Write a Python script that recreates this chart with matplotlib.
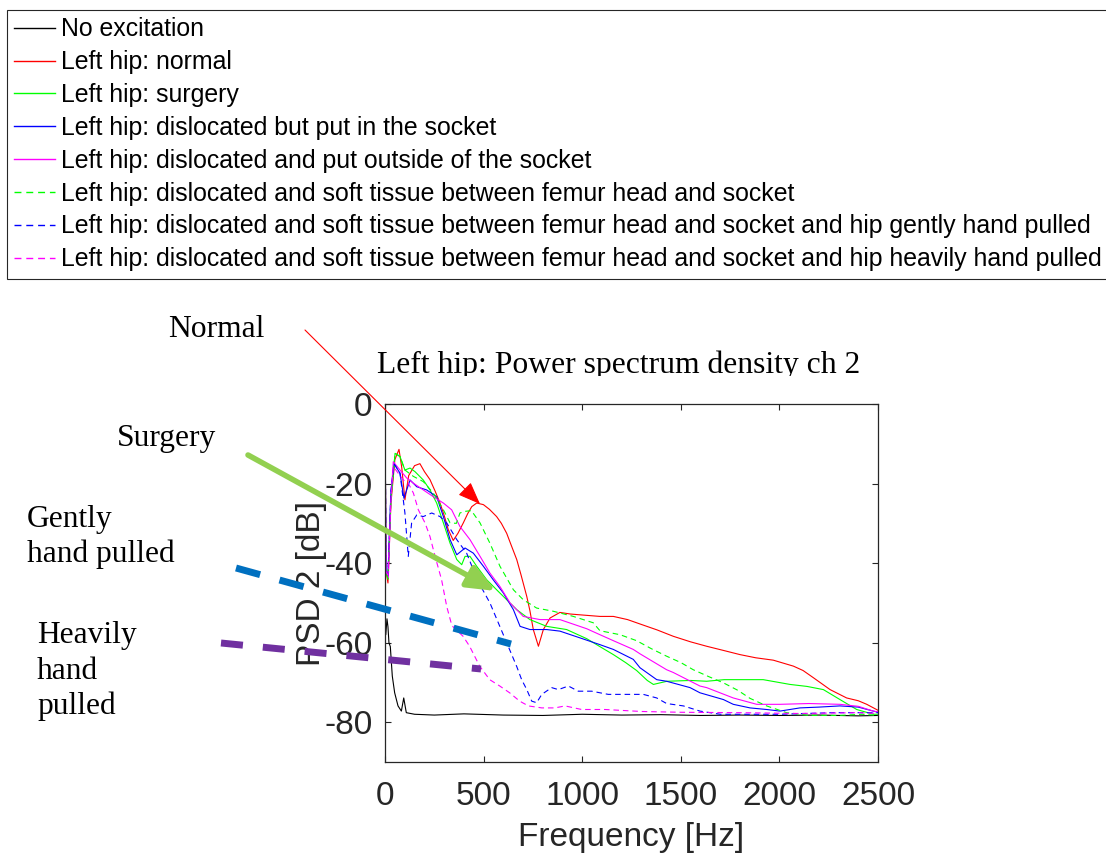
import matplotlib
matplotlib.use("Agg")
import matplotlib.pyplot as plt
from matplotlib.lines import Line2D
from matplotlib.patches import FancyArrowPatch, ArrowStyle
from matplotlib.transforms import Bbox, TransformedBbox

##### data (frequency in Hz, PSD in dB) #####
f_none = [0, 4, 10, 15, 20, 27, 37, 49, 66, 83, 95, 108, 150, 250, 400, 600, 800,
          1000, 1200, 1400, 1600, 1800, 2000, 2200, 2400, 2500]
psd_none = [-52, -58, -54, -56, -60, -61, -68.4, -72.6, -75.9, -77.2, -73.9, -77.6, -78, -78.2,
            -77.9, -78.2, -78.3, -78, -78.2, -78.1, -78.3, -78.2, -78.3, -78.2, -78.4, -78.3]

f_normal = [0, 5, 15, 30, 50, 71, 85, 101, 120, 150, 177, 200, 228, 255, 279, 300, 321, 346,
            370, 397, 420, 440, 465, 499, 530, 566, 590, 617, 640, 668, 690, 719, 735, 752,
            778, 803, 837, 887, 940, 989, 1090, 1158, 1230, 1293, 1380, 1462, 1550, 1631,
            1720, 1800, 1880, 1969, 2071, 2120, 2172, 2257, 2341, 2400, 2443, 2500]
psd_normal = [0, -42, -45, -25, -14, -11.4, -16, -24.1, -18, -15.5, -15, -17, -19, -22, -24.9,
              -28, -31.6, -34.3, -32.5, -29.9, -27.5, -25.8, -24.9, -25.3, -26.5, -28.3, -30,
              -32.5, -35.5, -39.1, -43, -48.4, -52, -56.7, -60.9, -56.7, -53.8, -52.4, -52.8,
              -53, -53.4, -53.4, -54.2, -55.3, -56.8, -58.4, -59.8, -60.9, -62, -63, -63.8,
              -64.4, -65.9, -67, -68.8, -71.8, -73.9, -74.6, -75.5, -77]

f_surgery = [0, 5, 15, 30, 51, 76, 101, 127, 152, 194, 228, 262, 296, 330, 364, 389, 406, 431,
             465, 516, 566, 617, 668, 735, 820, 921, 1023, 1090, 1158, 1220, 1276, 1330, 1361,
             1430, 1550, 1631, 1720, 1800, 1918, 2054, 2140, 2223, 2307, 2392, 2476, 2500]
psd_surgery = [0, -42, -44, -24, -12.4, -13.2, -16.6, -16.1, -17, -19.1, -21.6, -24.9, -29.9,
               -35, -39.1, -40.4, -38.3, -38.3, -40.8, -44.2, -46.7, -49.2, -51.7, -54.2, -55.9,
               -56.7, -59, -61, -63, -65, -67, -69.5, -70.5, -69.7, -69.5, -69.7, -69.3, -69.3,
               -69.3, -70.5, -71, -71.8, -74.3, -76.8, -78, -78]

f_insocket = [0, 5, 15, 30, 46, 76, 96, 127, 161, 211, 262, 296, 330, 364, 406, 448, 499, 549,
              600, 651, 685, 735, 820, 887, 989, 1090, 1158, 1259, 1293, 1378, 1428, 1547, 1597,
              1716, 1766, 1851, 1935, 2003, 2104, 2200, 2307, 2400, 2476, 2500]
psd_insocket = [0, -42, -43, -22, -15, -17.4, -23.7, -19.1, -20.8, -21.6, -23.3, -28.3, -34.1,
                -37.9, -36.2, -37.5, -40.8, -44.2, -47.5, -51.7, -55.9, -56.7, -56.7, -57.1,
                -58.8, -60.5, -61.7, -64.2, -66.3, -69.3, -69.7, -71.3, -72.6, -74.3, -75.5,
                -76.4, -76.8, -77.2, -76.4, -76.2, -75.9, -76.2, -77.2, -77.5]

f_outside = [0, 5, 17, 30, 42, 76, 110, 144, 194, 245, 296, 338, 380, 431, 482, 532, 583, 634,
             701, 786, 887, 1023, 1090, 1158, 1259, 1293, 1428, 1462, 1597, 1631, 1766, 1885,
             2003, 2150, 2307, 2400, 2476, 2500]
psd_outside = [0, -42, -43.7, -24, -14.5, -16.6, -18.6, -19.9, -21.6, -23.3, -24.9, -26.6, -30.8,
               -34.1, -38.3, -42.5, -45.9, -50, -53.4, -54.2, -54.2, -56.5, -58, -59.5, -61.7,
               -62.8, -66.8, -67.5, -70.9, -71.3, -73.9, -75.5, -75.5, -75.3, -75.5, -76, -77.2,
               -77.4]

f_tissue = [0, 5, 15, 30, 51, 76, 101, 144, 194, 245, 296, 330, 362, 380, 404, 438, 482, 532,
            583, 651, 701, 769, 853, 955, 1056, 1090, 1192, 1276, 1350, 1428, 1500, 1563, 1640,
            1716, 1790, 1851, 1935, 2037, 2150, 2300, 2420, 2500]
psd_tissue = [0, -42, -44, -24, -12.4, -13.2, -16.6, -18.2, -19.5, -22.4, -26.6, -29.9, -30,
              -27.4, -27, -26.8, -29.9, -35, -40.8, -46.7, -49.2, -51.3, -52.1, -53.4, -55, -57,
              -58, -59.5, -61.5, -63.4, -65, -66.8, -68.5, -70.1, -72, -74, -75.9, -77.6, -78.3,
              -78.3, -78, -78.3]

f_gently = [0, 5, 15, 30, 46, 76, 101, 118, 135, 161, 194, 237, 279, 313, 364, 414, 448, 482,
            532, 583, 634, 668, 693, 719, 744, 769, 795, 845, 879, 930, 980, 1048, 1132, 1200,
            1259, 1310, 1378, 1428, 1513, 1597, 1700, 1800, 2000, 2273, 2500]
psd_gently = [0, -42, -43, -22, -15, -17.4, -27.4, -38.3, -29.9, -27.9, -28.3, -27.4, -28.3,
              -29.9, -34.1, -37.5, -41.7, -45.5, -50, -56, -62, -66, -69.3, -71.8, -74.7, -75.1,
              -73, -71.3, -71.8, -70.9, -72.2, -72.2, -73, -73, -73, -73, -73.9, -75.3, -75.9,
              -77.2, -78, -78, -78, -77.6, -77.6]

f_heavily = [0, 5, 15, 30, 42, 67, 93, 118, 144, 169, 203, 228, 254, 287, 313, 338, 345, 396,
             429, 480, 531, 582, 632, 683, 727, 795, 862, 913, 997, 1116, 1300, 1500, 1800, 2100,
             2400, 2500]
psd_heavily = [0, -42, -43, -24, -15.7, -17.4, -19.1, -19.9, -22.4, -26.6, -29.9, -33.3, -38.3,
               -44.2, -50.9, -55.5, -56, -58.4, -60.9, -65.9, -69.3, -70.9, -72.6, -74.7, -75.9,
               -76.4, -76.4, -75.9, -76.8, -76.8, -77.3, -77.5, -77.6, -77.8, -77.6, -77.8]

labels = ["No excitation",
          "Left hip: normal",
          "Left hip: surgery",
          "Left hip: dislocated but put in the socket",
          "Left hip: dislocated and put outside of the socket",
          "Left hip: dislocated and soft tissue between femur head and socket",
          "Left hip: dislocated and soft tissue between femur head and socket and hip gently hand pulled",
          "Left hip: dislocated and soft tissue between femur head and socket and hip heavily hand pulled"]
x_ticks = [0, 500, 1000, 1500, 2000, 2500]
y_ticks = [-80, -60, -40, -20, 0]

##### layout (reference is 1106 x 857 px) #####
W, H = 1106, 857


def fx(x):
    return x / W


def fy(y):
    return 1 - y / H


plt.rcParams['axes.unicode_minus'] = False
AX_COL = '#262626'
sans = ['Liberation Sans', 'DejaVu Sans']
serif = ['Liberation Serif', 'DejaVu Serif']

fig = plt.figure(figsize=(W / 100, H / 100), dpi=100)
ax = fig.add_axes([fx(385), fy(762), 493 / W, 358 / H])

series = [
    (f_none, psd_none, 'k', '-'),
    (f_normal, psd_normal, '#FF0000', '-'),
    (f_surgery, psd_surgery, '#00FF00', '-'),
    (f_insocket, psd_insocket, '#0000FF', '-'),
    (f_outside, psd_outside, '#FF00FF', '-'),
    (f_tissue, psd_tissue, '#00FF00', '--'),
    (f_gently, psd_gently, '#0000FF', '--'),
    (f_heavily, psd_heavily, '#FF00FF', '--'),
]
handles = []
for (f, p, c, ls), lab in zip(series, labels):
    line, = ax.plot(f, p, color=c, lw=0.8, label=lab)
    if ls == '--':
        line.set_dashes((5, 3.5))
    handles.append(line)

ax.set_xlim(0, 2500)
ax.set_ylim(-90, 0)
ax.set_xticks(x_ticks)
ax.set_yticks(y_ticks)
ax.tick_params(direction='in', length=4, width=0.8, colors=AX_COL, top=True, right=True,
               labelsize=24)
ax.tick_params(axis='x', pad=14)
ax.tick_params(axis='y', pad=9)
for lbl in ax.get_xticklabels() + ax.get_yticklabels():
    lbl.set_family(sans)
for sp in ax.spines.values():
    sp.set_color(AX_COL)
    sp.set_linewidth(0.9)

ax.set_xlabel("Frequency [Hz]", fontsize=24, family=sans, color=AX_COL, labelpad=7)
ax.set_ylabel("PSD 2 [dB]", fontsize=24, family=sans, color=AX_COL)
ax.yaxis.set_label_coords(-0.118, 0.5)

# legend across the top of the figure
leg = fig.legend(handles=handles, labels=labels, loc='upper left',
                 bbox_to_anchor=(fx(7), fy(10)), borderaxespad=0,
                 prop={'family': sans, 'size': 17.9}, labelspacing=0.355,
                 handlelength=1.65, handletextpad=0.22, borderpad=0.3,
                 fancybox=False, framealpha=1)
leg.get_frame().set_edgecolor(AX_COL)
leg.get_frame().set_linewidth(0.8)
for legline in leg.get_lines():
    legline.set_linewidth(1.0)

# title, cut at the bottom like the original
title = fig.text(fx(377), fy(373), "Left hip: Power spectrum density ch 2",
                 family=serif, fontsize=22.8, va='baseline', ha='left')
title.set_clip_box(TransformedBbox(Bbox([[fx(360), fy(376)], [fx(900), fy(335)]]),
                                   fig.transFigure))
title.set_clip_on(True)

# hand-drawn annotations
notes = [
    ("Normal", 168, 337),
    ("Surgery", 117, 446),
    ("Gently", 27, 527),
    ("hand pulled", 27, 562),
    ("Heavily", 37, 643),
    ("hand", 37, 679),
    ("pulled", 37, 714),
]
for txt, x, y in notes:
    fig.text(fx(x), fy(y), txt, family=serif, fontsize=22.7, va='baseline', ha='left')

red_arrow = FancyArrowPatch((fx(305), fy(330)), (fx(480), fy(504)),
                            transform=fig.transFigure,
                            arrowstyle=ArrowStyle('-|>', head_length=14, head_width=5.5),
                            mutation_scale=1, color='#FF0000', lw=0.8,
                            shrinkA=0, shrinkB=0, zorder=5)
fig.add_artist(red_arrow)

green_arrow = FancyArrowPatch((fx(248), fy(455)), (fx(496), fy(591)),
                              transform=fig.transFigure,
                              arrowstyle=ArrowStyle('-|>', head_length=17, head_width=7),
                              mutation_scale=1, color='#92D050', lw=4,
                              shrinkA=0, shrinkB=0, zorder=5)
fig.add_artist(green_arrow)

blue_dash = Line2D([fx(236), fx(511)], [fy(568), fy(644)], transform=fig.transFigure,
                   color='#0070C0', lw=5, dashes=(3.6, 2.9), dash_capstyle='butt', zorder=5)
purple_dash = Line2D([fx(221), fx(481)], [fy(643), fy(669)], transform=fig.transFigure,
                     color='#7030A0', lw=5, dashes=(3.17, 2.88), dash_capstyle='butt', zorder=5)
fig.add_artist(blue_dash)
fig.add_artist(purple_dash)

fig.savefig("out.png", dpi=100)
